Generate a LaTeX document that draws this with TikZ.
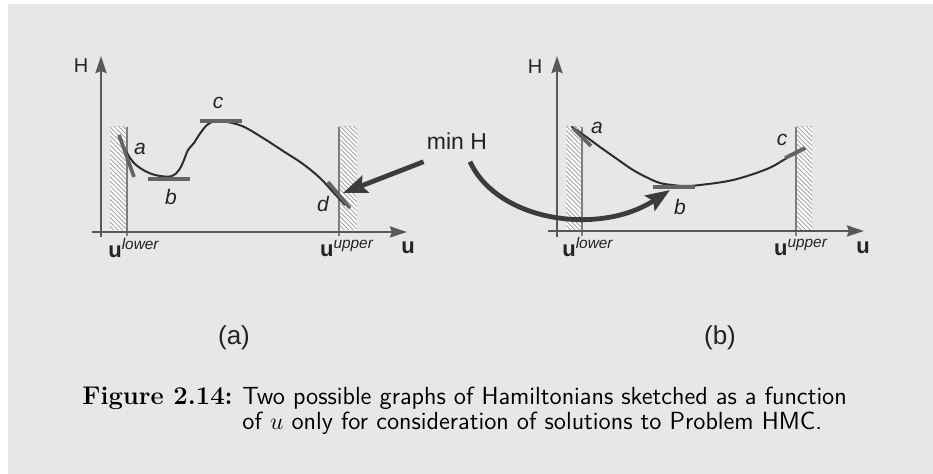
\documentclass[tikz,border=0pt]{standalone}
\usepackage{fontspec}
\newfontfamily\arial{Liberation Sans}
\usetikzlibrary{arrows.meta,patterns.meta,positioning}
\definecolor{bggrey}{RGB}{231,231,231}
\definecolor{axisgrey}{RGB}{88,88,88}
\definecolor{curvegrey}{RGB}{45,45,45}
\definecolor{tangrey}{RGB}{100,100,100}
\definecolor{boundgrey}{RGB}{125,125,125}
\definecolor{arrowgrey}{RGB}{60,60,60}
\definecolor{textgrey}{RGB}{35,35,35}

\begin{document}
\begin{tikzpicture}[x=0.5pt, y=-0.5pt,
    axis/.style={line width=1.3pt, axisgrey, -{Stealth[length=8.5pt,width=5.5pt,inset=1pt]}},
    bound/.style={line width=1pt, boundgrey},
    hatch/.style={pattern={Lines[angle=-45,distance=1.6pt,line width=0.35pt]},
        pattern color=gray!80, preaction={fill=white!80!bggrey}},
    curve/.style={line width=1pt, curvegrey, line cap=round},
    tang/.style={line width=1.8pt, tangrey},
    bigarr/.style={line width=2.4pt, arrowgrey, -{Stealth[length=12pt,width=9pt,inset=2pt]}},
    pt/.style={font=\arial\fontsize{10.5}{12}\selectfont\itshape, text=textgrey, inner sep=1pt},
    axlbl/.style={font=\arial\fontsize{10}{12}\selectfont, text=textgrey, inner sep=1pt},
    bndlbl/.style={font=\arial\fontsize{11}{12}\selectfont, text=textgrey, inner sep=1pt},
    panel/.style={font=\arial\fontsize{13}{14}\selectfont, text=textgrey, inner sep=1pt},
    captxt/.style={font=\sffamily\fontsize{12.4}{12.5}\selectfont, anchor=base west, inner sep=0pt}
]
    \useasboundingbox (0,0) rectangle (933,474);
    \fill[white] (0,0) rectangle (933,474);
    \fill[bggrey] (8,4) rectangle (933,474);

    % Panel (a)
    \fill[hatch] (110,127) rectangle (127,230);
    \fill[hatch] (339,127) rectangle (357,230);
    \draw[bound] (127,127) -- (127,236);
    \draw[bound] (339,127) -- (339,236);
    \draw[axis] (101,237) -- (101,56);
    \draw[axis] (92,232) -- (407,232);

    \draw[curve] plot[smooth, tension=0.6] coordinates {(119,137) (127,153) (135,164)
        (147,172) (160,176) (172,176) (179,170) (184,160) (188,150) (194,143)
        (199,135) (207,125) (215,121) (222,121) (242,126) (263,138) (283,151)
        (303,164) (320,178) (333,192) (345,205)};
    \draw[tang] (119,135) -- (134,177);
    \draw[tang] (148,179) -- (190,179);
    \draw[tang] (200,121) -- (242,121);
    \draw[tang] (328,182) -- (350,208);

    \node[axlbl] (Ha) at (81,66) {H};
    \node[pt] (pa) at (140,149) {a};
    \node[pt] (pb) at (171,197) {b};
    \node[pt] (pc) at (218,103) {c};
    \node[pt] (pd) at (323,204) {d};
    \node[bndlbl] (lowa) at (134,248) {\textbf{u}\textsuperscript{\itshape lower}};
    \node[bndlbl] (uppa) at (347,248) {\textbf{u}\textsuperscript{\itshape upper}};
    \node[bndlbl] (ua) at (408,248) {\textbf{u}};
    \node[panel] (capa) at (234,338) {(a)};

    % Panel (b)
    \fill[hatch] (566,127) rectangle (582,230);
    \fill[hatch] (796,127) rectangle (812,230);
    \draw[bound] (582,127) -- (582,236);
    \draw[bound] (796,127) -- (796,236);
    \draw[axis] (557,237) -- (557,56);
    \draw[axis] (548,231) -- (864,231);

    \draw[curve] plot[smooth, tension=0.6] coordinates {(572,127) (585,136) (600,147)
        (617,159) (633,170) (648,178) (660,183) (672,185) (685,186) (700,185)
        (733,180) (767,169) (787,158) (805,149)};
    \draw[tang] (573,128) -- (591,146);
    \draw[tang] (653,187) -- (695,187);
    \draw[tang] (785,158) -- (805,148);

    \node[axlbl] (Hb) at (535,67) {H};
    \node[pt] (qa) at (597,128) {a};
    \node[pt] (qb) at (680,207) {b};
    \node[pt] (qc) at (782,140) {c};
    \node[bndlbl] (lowb) at (588,247) {\textbf{u}\textsuperscript{\itshape lower}};
    \node[bndlbl] (uppb) at (801,247) {\textbf{u}\textsuperscript{\itshape upper}};
    \node[bndlbl] (ub) at (863,248) {\textbf{u}};
    \node[panel] (capb) at (720,338) {(b)};

    % min H arrows
    \node[font=\arial\fontsize{11.5}{13}\selectfont, text=textgrey, inner sep=1pt] (minH) at (457,141) {min H};
    \coordinate (dpt) at (343,193);
    \coordinate (bpt) at (670,190);
    \draw[bigarr] ([shift={(-1,10)}]minH.south west) -- (dpt);
    \draw[bigarr] ([shift={(13,10)}]minH.south) .. controls (498,222) and (600,236) .. (bpt);

    % caption
    \node[font=\fontsize{12.8}{13}\selectfont\bfseries, anchor=base west, inner sep=0pt] (figlbl) at (82,405) {Figure 2.14:};
    \node[captxt] (capl1) at (242,405) {Two possible graphs of Hamiltonians sketched as a function};
    \node[captxt] (capl2) at ([yshift=-12.5pt]capl1.base west) {of $u$ only for consideration of solutions to Problem HMC.};
\end{tikzpicture}
\end{document}
